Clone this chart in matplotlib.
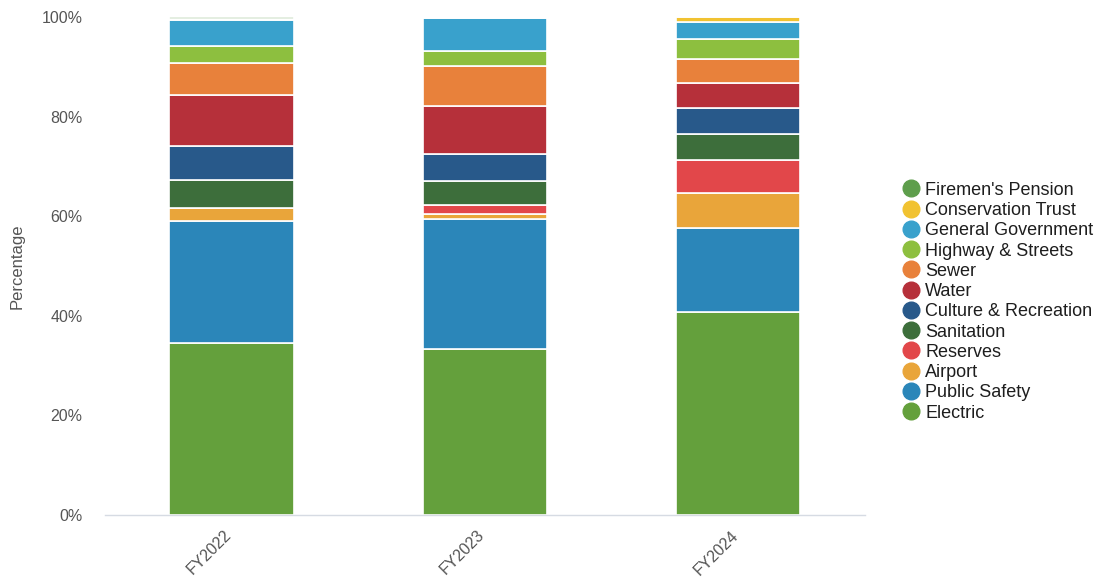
import matplotlib
matplotlib.use("Agg")
import matplotlib.pyplot as plt
import matplotlib.transforms as mtransforms
from matplotlib.lines import Line2D
from matplotlib.ticker import FuncFormatter
import numpy as np

plt.rcParams['font.family'] = ['Liberation Sans', 'DejaVu Sans']

years = ["FY2022", "FY2023", "FY2024"]

# Share of total (%) by fund, stacked bottom to top
electric = [34.5, 33.3, 40.7]
public_safety = [24.5, 26.2, 16.9]
airport = [2.7, 1.0, 7.0]
reserves = [0.0, 1.7, 6.7]
sanitation = [5.5, 4.9, 5.3]
culture_recreation = [6.9, 5.5, 5.2]
water = [10.3, 9.6, 4.9]
sewer = [6.4, 7.9, 4.8]
highway_streets = [3.3, 3.1, 4.0]
general_government = [5.4, 6.6, 3.6]
conservation_trust = [0.2, 0.1, 0.9]
firemens_pension = [0.3, 0.1, 0.0]

series = [
    ("Electric", electric, "#64a03c"),
    ("Public Safety", public_safety, "#2b86b9"),
    ("Airport", airport, "#e9a53a"),
    ("Reserves", reserves, "#e2474a"),
    ("Sanitation", sanitation, "#3d6e3b"),
    ("Culture & Recreation", culture_recreation, "#28598a"),
    ("Water", water, "#b6303a"),
    ("Sewer", sewer, "#e8813b"),
    ("Highway & Streets", highway_streets, "#8dbf3f"),
    ("General Government", general_government, "#39a1cc"),
    ("Conservation Trust", conservation_trust, "#f1c231"),
    ("Firemen's Pension", firemens_pension, "#5e9e4c"),
]

fig = plt.figure(figsize=(11.02, 5.88), dpi=100)
ax = fig.add_axes([0.095, 0.124, 0.69, 0.847])

x = np.arange(len(years))
bottom = np.zeros(len(years))
for name, vals, color in series:
    vals = np.array(vals, dtype=float)
    ax.bar(x, vals, bottom=bottom, width=0.49, color=color,
           edgecolor="white", linewidth=1.2)
    bottom += vals

ax.set_xlim(-0.5, 2.5)
ax.set_ylim(0, 100)
ax.set_yticks([0, 20, 40, 60, 80, 100])
ax.yaxis.set_major_formatter(FuncFormatter(lambda v, p: f"{int(v)}%"))
ax.set_xticks(x)
ax.set_xticklabels(years, rotation=45, ha="right", rotation_mode="anchor")
ax.tick_params(axis="both", length=0, colors="#555555", labelsize=11.5)
ax.tick_params(axis="y", pad=16)
ax.tick_params(axis="x", pad=9)
shift = mtransforms.ScaledTranslation(-0.08, 0, fig.dpi_scale_trans)
for lbl in ax.get_xticklabels():
    lbl.set_transform(lbl.get_transform() + shift)
for s in ("top", "right", "left"):
    ax.spines[s].set_visible(False)
ax.spines["bottom"].set_color("#d6dbe3")
ax.spines["bottom"].set_linewidth(1.0)
ax.set_ylabel("Percentage", color="#555555", fontsize=12, labelpad=12)

handles = [Line2D([0], [0], marker="o", linestyle="", markersize=12,
                  markerfacecolor=c, markeredgecolor=c, label=n)
           for n, _, c in reversed(series)]
fig.legend(handles=handles, loc="center left", bbox_to_anchor=(0.8035, 0.487),
           frameon=False, fontsize=13, handletextpad=0.3, labelspacing=0.18,
           handlelength=1.0, labelcolor="#1e1e1e")

fig.savefig("out.png", dpi=100, facecolor="white")
